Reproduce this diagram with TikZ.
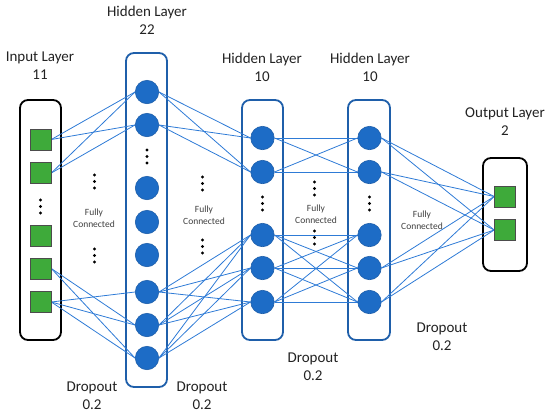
\documentclass[tikz,border=0pt]{standalone}
\usepackage{fontspec}
\setmainfont{Carlito}
\pgfdeclarelayer{bg}
\pgfdeclarelayer{mid}
\pgfsetlayers{bg,mid,main}
\definecolor{lineblue}{HTML}{2E7BD6}
\definecolor{nodeblue}{HTML}{1D6CC6}
\definecolor{boxblue}{HTML}{1F5FAA}
\definecolor{sqgreen}{HTML}{3EAA3A}
\definecolor{txt}{HTML}{222222}
\begin{document}
\begin{tikzpicture}[x=1pt,y=-1pt,
 neuron/.style={circle,fill=nodeblue,draw=boxblue,line width=0.6pt,minimum size=23.4pt,inner sep=0pt},
 unit/.style={rectangle,fill=sqgreen,draw=black!70,line width=0.6pt,minimum size=21pt,inner sep=0pt},
 layerbox/.style={rectangle,rounded corners=8pt,line width=1.8pt,inner sep=0pt},
 link/.style={lineblue,line width=0.8pt},
 title/.style={font=\fontsize{15}{18}\selectfont,align=center,text=txt},
 small/.style={font=\fontsize{9.5}{12}\selectfont,align=center,text=black!75},
 dotnode/.style={circle,fill=black,inner sep=0pt,minimum size=3.4pt}]
\useasboundingbox (0,0) rectangle (550,416);

% layer boxes
\begin{pgfonlayer}{bg}
\node[layerbox,draw=black,minimum width=41pt,minimum height=240pt] (inbox) at (40.5,220) {};
\node[layerbox,draw=boxblue,minimum width=41pt,minimum height=334pt] (h1box) at (146.5,220) {};
\node[layerbox,draw=boxblue,minimum width=41pt,minimum height=240pt] (h2box) at (262.5,220) {};
\node[layerbox,draw=boxblue,minimum width=42pt,minimum height=240pt] (h3box) at (369,220) {};
\node[layerbox,draw=black,minimum width=44pt,minimum height=113pt] (outbox) at (505,214.5) {};
\end{pgfonlayer}

% input units
\foreach \n/\y in {1/139.5,2/173,3/236,4/268.5,5/302}
  \node[unit] (i\n) at (40.5,\y) {};
% hidden 22
\foreach \n/\y in {1/92,2/125,3/188,4/222,5/255,6/292,7/325,8/358}
  \node[neuron] (a\n) at (147,\y) {};
% hidden 10 (first)
\foreach \n/\y in {1/138,2/172,3/235,4/268,5/302}
  \node[neuron] (b\n) at (262.5,\y) {};
% hidden 10 (second)
\foreach \n/\y in {1/138,2/172,3/235,4/268,5/302}
  \node[neuron] (c\n) at (369.5,\y) {};
% output units
\node[unit] (o1) at (505,196.5) {};
\node[unit] (o2) at (505,230) {};

% connections
\begin{pgfonlayer}{mid}
\foreach \s in {1,2} \foreach \t in {1,2} \draw[link] (i\s.east) -- (a\t.west);
\foreach \t in {7,8} \draw[link] (i4.east) -- (a\t.west);
\foreach \t in {6,7,8} \draw[link] (i5.east) -- (a\t.west);
\foreach \s in {1,2} \foreach \t in {1,2} \draw[link] (a\s.east) -- (b\t.west);
\foreach \s in {6,7,8} \foreach \t in {3,4,5} \draw[link] (a\s.east) -- (b\t.west);
\foreach \s in {1,2} \foreach \t in {1,2} \draw[link] (b\s.east) -- (c\t.west);
\foreach \s in {3,4,5} \foreach \t in {3,4,5} \draw[link] (b\s.east) -- (c\t.west);
\foreach \s in {1,2,4,5} \foreach \t in {1,2} \draw[link] (c\s.east) -- (o\t.west);
\end{pgfonlayer}

% ellipsis dots
\foreach \k/\x/\y in {in/40.5/200, ha/147/150, hb/262.5/197, hc/369.5/197,
                      ga/94.5/175, gb/94.5/249, gc/202.5/177, gd/202.5/240,
                      ge/314.5/182, gf/314.5/231}
  \foreach \j in {0,1,2}
    \node[dotnode] (dot\k\j) at (\x,\y+6.5*\j) {};

% titles
\node[title] (tin) at (40,66) {Input Layer\\11};
\node[title] (th1) at (147,20) {Hidden Layer\\22};
\node[title] (th2) at (262,67) {Hidden Layer\\10};
\node[title] (th3) at (370,67) {Hidden Layer\\10};
\node[title] (tout) at (505,122) {Output Layer\\2};

% fully connected
\node[small] (fc1) at (94,218) {Fully\\Connected};
\node[small] (fc2) at (204,215) {Fully\\Connected};
\node[small] (fc3) at (316,214) {Fully\\Connected};
\node[small] (fc4) at (422,220) {Fully\\Connected};

% dropout
\node[title] (dr1) at (92,396) {Dropout\\0.2};
\node[title] (dr2) at (202,396) {Dropout\\0.2};
\node[title] (dr3) at (313,367) {Dropout\\0.2};
\node[title] (dr4) at (442,337) {Dropout\\0.2};
\end{tikzpicture}
\end{document}
